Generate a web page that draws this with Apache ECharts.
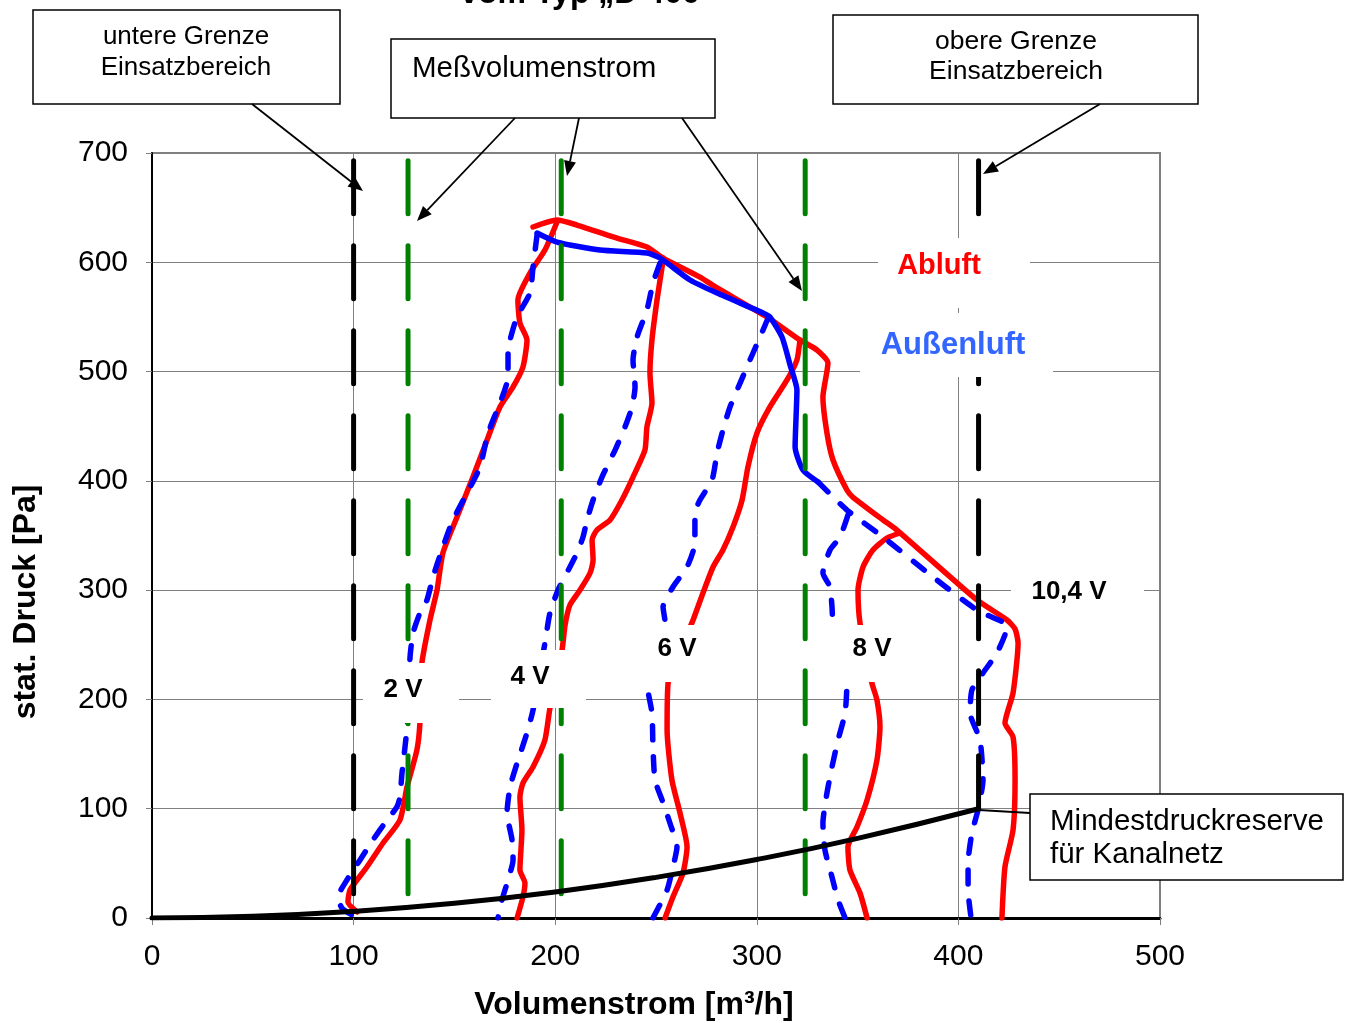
<!DOCTYPE html>
<html><head><meta charset="utf-8">
<script src="https://cdn.jsdelivr.net/npm/echarts@6/dist/echarts.min.js"></script>
<style>html,body{margin:0;padding:0;background:#fff}#c{width:1353px;height:1023px}</style>
</head><body><div id="c"></div>
<script>
// ---- Data (Volumenstrom [m³/h], stat. Druck [Pa]) ----
const xRange = [0, 500, 100];
const yRange = [0, 700, 100];

const abluft104 = [[189.0,632.3],[200.9,638.7],[210.8,634.1],[230.7,622.2],[245.5,614.0],[253.5,603.9],[271.8,586.5],[280.3,576.5],[305.1,549.9],[321.4,528.9],[329.9,519.7],[335.3,507.8],[332.8,476.7],[334.8,443.8],[337.8,419.1],[344.7,391.6],[347.6,385.2],[362.6,364.2],[369.5,355.0],[409.2,291.0],[424.1,272.7],[428.1,264.4],[429.6,251.6],[427.1,205.9],[423.1,178.4],[427.1,165.6],[428.1,126.3],[427.1,80.5],[423.1,46.7],[421.6,0]];
const abluft2V = [[200.9,636.9],[194.9,611.2],[187.5,590.2],[181.5,565.5],[182.5,544.4],[186.0,528.9],[184.0,504.2],[179.1,485.9],[172.6,467.6],[166.2,437.4],[159.2,403.5],[151.3,366.9],[144.3,334.0],[141.4,300.1],[137.9,272.7],[133.9,233.3],[132.9,178.4],[131.4,153.7],[126.5,119.9],[123.0,89.7],[114.6,68.6],[106.6,46.7],[98.2,25.6],[97.2,14.6],[101.7,5.5]];
const abluft4V = [[253.5,603.9],[253.0,595.7],[250.5,565.5],[248.0,528.9],[247.0,498.7],[248.0,471.2],[245.5,449.3],[244.5,428.2],[238.6,403.5],[233.1,382.5],[227.2,364.2],[220.7,355.0],[218.3,345.9],[218.8,327.6],[217.3,315.7],[212.3,300.1],[207.3,286.4],[204.9,268.1],[203.4,245.2],[197.4,192.2],[194.9,162.9],[189.0,138.2],[184.0,123.5],[182.5,110.7],[183.5,80.5],[182.5,43.9],[185.0,32.0],[184.0,19.2],[181.1,0]];
const abluft6V = [[321.4,528.9],[319.9,510.6],[315.0,492.3],[306.5,467.6],[300.1,443.8],[295.6,412.7],[292.7,382.5],[288.2,357.8],[283.2,336.7],[278.3,321.2],[273.3,297.4],[268.4,272.7],[256.0,215.0],[255.5,172.0],[257.9,126.3],[261.9,96.1],[265.4,65.0],[263.4,41.2],[258.4,19.2],[254.5,0]];
const abluft8V = [[371.0,352.3],[364.6,347.7],[357.6,336.7],[352.7,321.2],[350.2,300.1],[351.2,269.9],[357.1,215.0],[359.6,199.5],[361.1,174.8],[359.6,144.6],[354.7,108.0],[349.7,83.3],[345.2,65.0],[346.2,43.9],[351.2,22.9],[354.7,0]];

const aussen104Solid = [[191.0,626.8],[200.9,618.5],[222.2,611.2],[245.5,608.5],[252.0,603.9],[266.9,583.8],[280.3,571.9],[303.1,553.6],[306.5,550.0],[312.5,531.6],[316.5,506.0],[319.9,483.1],[319.0,431.0],[322.9,409.9],[330.4,398.9]];
const aussen104Dashed = [[330.4,398.9],[344.7,373.3],[362.6,348.6],[387.4,312.0],[409.2,281.8],[423.1,269.9],[424.1,266.3],[419.1,242.5],[412.2,224.2],[406.7,208.6],[405.8,187.6],[410.7,162.9],[412.2,126.3],[409.7,98.8],[406.7,77.8],[404.8,50.3],[404.8,25.6],[406.3,0]];
const aussen2V = [[191.0,624.9],[189.0,595.7],[187.5,571.9],[181.0,549.9],[177.6,528.9],[176.6,517.0],[176.6,495.0],[172.6,471.2],[166.7,443.8],[162.7,412.7],[156.3,388.9],[149.3,364.2],[144.3,339.5],[139.4,312.0],[136.4,291.0],[132.9,279.1],[129.5,260.8],[128.0,238.8],[126.5,174.8],[125.5,156.5],[124.0,132.7],[123.0,110.7],[121.5,101.6],[116.6,89.7],[109.6,71.4],[103.2,53.1],[96.7,34.8],[92.3,19.2],[94.2,9.1],[101.7,0]];
const aussen4V = [[252.0,599.3],[248.5,581.0],[245.5,556.3],[240.6,531.6],[238.6,510.6],[239.6,485.9],[238.1,467.6],[234.6,449.3],[229.7,428.2],[223.2,403.5],[218.8,382.5],[215.8,364.2],[213.8,348.6],[210.8,334.0],[207.3,321.2],[201.4,300.1],[197.4,279.1],[194.9,251.6],[189.0,190.3],[186.0,169.3],[181.1,141.8],[177.6,119.9],[176.1,96.1],[178.6,71.4],[179.1,53.1],[176.6,34.8],[173.6,16.5],[171.6,0]];
const aussen6V = [[305.6,549.0],[301.6,531.6],[296.6,510.6],[291.7,489.5],[286.7,467.6],[283.2,446.5],[280.3,425.5],[277.8,400.8],[271.8,382.5],[269.3,370.6],[269.3,343.1],[265.4,321.2],[258.4,302.9],[253.5,284.6],[254.5,270.8],[245.5,215.0],[248.0,187.6],[248.5,156.5],[249.5,126.3],[253.0,108.0],[256.9,86.9],[260.4,65.0],[258.4,46.7],[255.5,25.6],[248.5,0]];
const aussen8V = [[345.2,368.7],[341.3,348.6],[336.3,336.7],[332.8,315.7],[336.3,302.9],[337.3,284.6],[337.8,269.9],[344.7,215.0],[343.8,187.6],[340.3,162.9],[337.3,138.2],[334.8,114.4],[332.8,86.9],[333.8,62.2],[337.3,37.5],[340.3,16.5],[343.8,0]];

const mindestdruck = [[0,0],[50,1.5],[100,6],[150,13.4],[200,23.8],[250,37.2],[300,53.5],[350,72.9],[410,100]];

const grenzeX = [100, 410];          // untere / obere Grenze Einsatzbereich
const grenzeBottom = [0, 100];
const messX = [127, 203, 324];        // Meßvolumenstrom
const refTop = 693;

// ---- Chart ----
const FONT = "'Liberation Sans', Arial, Helvetica, sans-serif";
const chart = echarts.init(document.getElementById('c'), null, {renderer:'canvas'});

function curve(name, data, color, dashed, z) {
  return {type:'line', name, data, showSymbol:false, symbol:'none', smooth:0.2, silent:true, z,
    lineStyle:{color, width:5.5, type: dashed ? [14,17] : 'solid', cap:'round', join:'round'}};
}
function refLine(name, x, y0, color) {
  return {type:'line', name, data:[[x, refTop],[x, y0]], showSymbol:false, symbol:'none', silent:true, z:6,
    lineStyle:{color, width:5, type:[53,32], cap:'round'}};
}

const series = [
  curve('Abluft 10,4 V', abluft104, '#ff0000', false, 3),
  curve('Abluft 2 V', abluft2V, '#ff0000', false, 3),
  curve('Abluft 4 V', abluft4V, '#ff0000', false, 3),
  curve('Abluft 6 V', abluft6V, '#ff0000', false, 3),
  curve('Abluft 8 V', abluft8V, '#ff0000', false, 3),
  curve('Außenluft 10,4 V', aussen104Solid, '#0000ff', false, 4),
  curve('Außenluft 10,4 V b', aussen104Dashed, '#0000ff', true, 4),
  curve('Außenluft 2 V', aussen2V, '#0000ff', true, 4),
  curve('Außenluft 4 V', aussen4V, '#0000ff', true, 4),
  curve('Außenluft 6 V', aussen6V, '#0000ff', true, 4),
  curve('Außenluft 8 V', aussen8V, '#0000ff', true, 4),
];
grenzeX.forEach((x,i)=>series.push(refLine('Grenze '+i, x, grenzeBottom[i], '#000000')));
messX.forEach((x,i)=>series.push(refLine('Mess '+i, x, 0, '#008000')));
series.push({type:'line', name:'Mindestdruckreserve', data:mindestdruck, showSymbol:false, symbol:'none', smooth:true, silent:true, z:7,
  lineStyle:{color:'#000', width:5, cap:'round'}});

// ---- annotation helpers (pixel space) ----
const G = [];
function box(x,y,w,h){ G.push({type:'rect', z:100, shape:{x,y,width:w,height:h}, style:{fill:'#fff', stroke:'#000', lineWidth:1.5}}); }
function white(x,y,w,h){ G.push({type:'rect', z:90, shape:{x,y,width:w,height:h}, style:{fill:'#fff', stroke:null}}); }
function txt(t,x,y,size,opt){
  opt = opt||{};
  G.push({type:'text', z:101, rotation: opt.rot||0, x, y, style:{text:t, x:0, y:0,
    font:(opt.bold?'bold ':'')+size+'px '+FONT, fill:opt.color||'#000',
    align:opt.align||'center', verticalAlign:'middle', textAlign:opt.align||'center', textVerticalAlign:'middle'}});
}
function arrow(x1,y1,x2,y2,head){
  const dx=x2-x1, dy=y2-y1, L=Math.hypot(dx,dy), ux=dx/L, uy=dy/L;
  const hl=15, hw=6;
  const bx=x2-ux*hl, by=y2-uy*hl;
  G.push({type:'line', z:102, shape:{x1,y1,x2: head?bx:x2, y2: head?by:y2}, style:{stroke:'#000', lineWidth:1.8}});
  if(head) G.push({type:'polygon', z:102, shape:{points:[[x2,y2],[bx-uy*hw,by+ux*hw],[bx+uy*hw,by-ux*hw]]}, style:{fill:'#000'}});
}

// partially visible title
txt('vom Typ „D 400“', 588, -6, 32, {bold:true});

box(33,10,307,94);   txt('untere Grenze',186,37,26); txt('Einsatzbereich',186,68,26);
box(391,39,324,79);  txt('Meßvolumenstrom',412,69,29.5,{align:'left'});
box(833,15,365,89);  txt('obere Grenze',1016,42,26.5); txt('Einsatzbereich',1016,72,26.5);
arrow(252,104,363,191,true);
arrow(515,118,417,221,true);
arrow(579,118,567,176,true);
arrow(682,118,802,291,true);
arrow(1100,104,983,174,true);

// in-plot labels
white(878,238,152,70);  txt('Abluft',939,266,29,{bold:true,color:'#ff0000'});
white(860,313,193,64);  txt('Außenluft',953,345,31,{bold:true,color:'#3366ff'});
white(363,663,96,60);   txt('2 V',403,690,26,{bold:true});
white(491,650,95,58);   txt('4 V',530,677,26,{bold:true});
white(636,625,100,57);  txt('6 V',677,649,26,{bold:true});
white(832,625,90,57);   txt('8 V',872,649,26,{bold:true});
white(1011,562,133,58); txt('10,4 V',1069,592,26,{bold:true});

// Mindestdruckreserve box
arrow(979,810,1030,813,false);
box(1030,794,313,86); txt('Mindestdruckreserve',1050,822,29.5,{align:'left'}); txt('für Kanalnetz',1050,855,29.5,{align:'left'});

// axis titles
txt('Volumenstrom [m³/h]',634,1005,32,{bold:true});
txt('stat. Druck [Pa]',26,602,32,{bold:true,rot:Math.PI/2});

chart.setOption({
  animation:false,
  backgroundColor:'#fff',
  grid:{left:152, right:193, top:153, bottom:105, show:true, borderColor:'#808080', borderWidth:2, backgroundColor:'transparent'},
  xAxis:{type:'value', min:xRange[0], max:xRange[1], interval:xRange[2],
    axisLine:{show:true, onZero:false, lineStyle:{color:'#000', width:3}},
    axisTick:{show:true, length:7, lineStyle:{color:'#808080', width:1}},
    axisLabel:{fontSize:30, color:'#000', fontFamily:FONT, margin:24},
    splitLine:{show:true, lineStyle:{color:'#808080', width:1}}},
  yAxis:{type:'value', min:yRange[0], max:yRange[1], interval:yRange[2],
    axisLine:{show:true, onZero:false, lineStyle:{color:'#000', width:2}},
    axisTick:{show:true, length:6, lineStyle:{color:'#808080', width:1}},
    axisLabel:{fontSize:30, color:'#000', fontFamily:FONT, margin:24},
    splitLine:{show:true, lineStyle:{color:'#808080', width:1}}},
  series,
  graphic:{elements:G}
});
</script>
</body></html>
